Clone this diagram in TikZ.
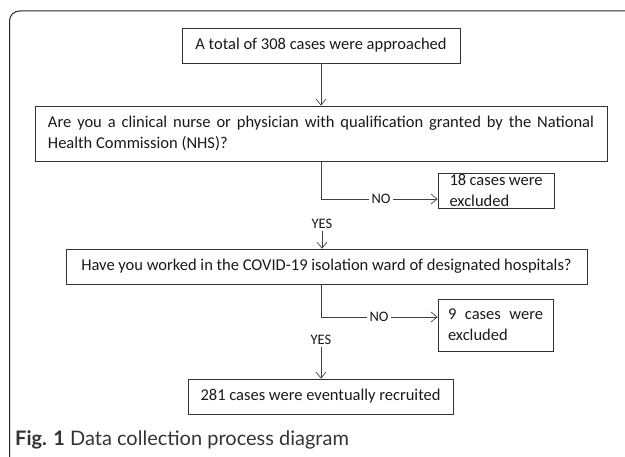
\documentclass[tikz,border=0pt]{standalone}
\usepackage{fontspec}
\setmainfont{Carlito}
\newfontfamily\bodyfont{Carlito}
\newfontfamily\capfont{Lato}
\usetikzlibrary{arrows.meta}
\begin{document}
\begin{tikzpicture}[x=1pt,y=-1pt,
  box/.style={draw=black!80,line width=0.8pt,inner sep=0pt,minimum height=35pt,
    font=\bodyfont\fontsize{16.5}{21}\selectfont,text=black!90,align=left},
  conn/.style={draw=black!75,line width=0.7pt},
  arr/.style={conn,-{Straight Barb[length=6pt,width=10pt]}},
  lab/.style={font=\bodyfont\fontsize{14.5}{16}\selectfont,fill=white,inner sep=2.5pt,text=black!90},
  frame/.style={draw=black!85,line width=1pt,rounded corners=10pt}]
\useasboundingbox (0,0) rectangle (625,457);
\draw[frame] (625,11) -- (9.5,11) -- (9.5,460);

\node[box,minimum width=278pt] (b1) at (321,45.5) {A total of 308 cases were approached};
\node[box,minimum width=572pt,minimum height=55pt] (b2) at (321,133.5)
  {\makebox[546pt][s]{Are you a clinical nurse or physician with qualification granted by the National}\\Health Commission (NHS)?};
\node[box,minimum width=116pt,minimum height=35pt] (b3) at (496,190.5)
  {\makebox[93pt][s]{18 cases were}\\excluded};
\node[box,minimum width=521pt] (b4) at (326.5,266.5)
  {Have you worked in the COVID-19 isolation ward of designated hospitals?};
\node[box,minimum width=115pt,minimum height=52pt] (b5) at (495.5,325)
  {\makebox[95pt][s]{9 cases were}\\excluded};
\node[box,minimum width=265pt] (b6) at (320.5,396.5) {281 cases were eventually recruited};

\coordinate (c1) at (321,199);
\coordinate (c2) at (321,317);
\node[lab] (no1) at (381,199) {NO};
\node[lab] (yes1) at (322,224) {YES};
\node[lab] (no2) at (379,317) {NO};
\node[lab] (yes2) at (321,340) {YES};

\draw[arr] (b1.south) -- (b1.south |- b2.north);
\draw[conn] (b1.south |- b2.south) -- (c1) -- (no1.west);
\draw[arr] (no1.east) -- (no1.east -| b3.west);
\draw[arr] (yes1.south) -- (yes1.south |- b4.north);
\draw[conn] (c2 |- b4.south) -- (c2) -- (no2.west);
\draw[arr] (no2.east) -- (no2.east -| b5.west);
\draw[arr] (yes2.south) -- (yes2.south |- b6.north);

\node[anchor=base west,inner sep=0pt,text=black!80] (cap) at (15,446)
  {\capfont\fontsize{20}{24}\selectfont\textbf{Fig. 1} Data collection process diagram};
\end{tikzpicture}
\end{document}
